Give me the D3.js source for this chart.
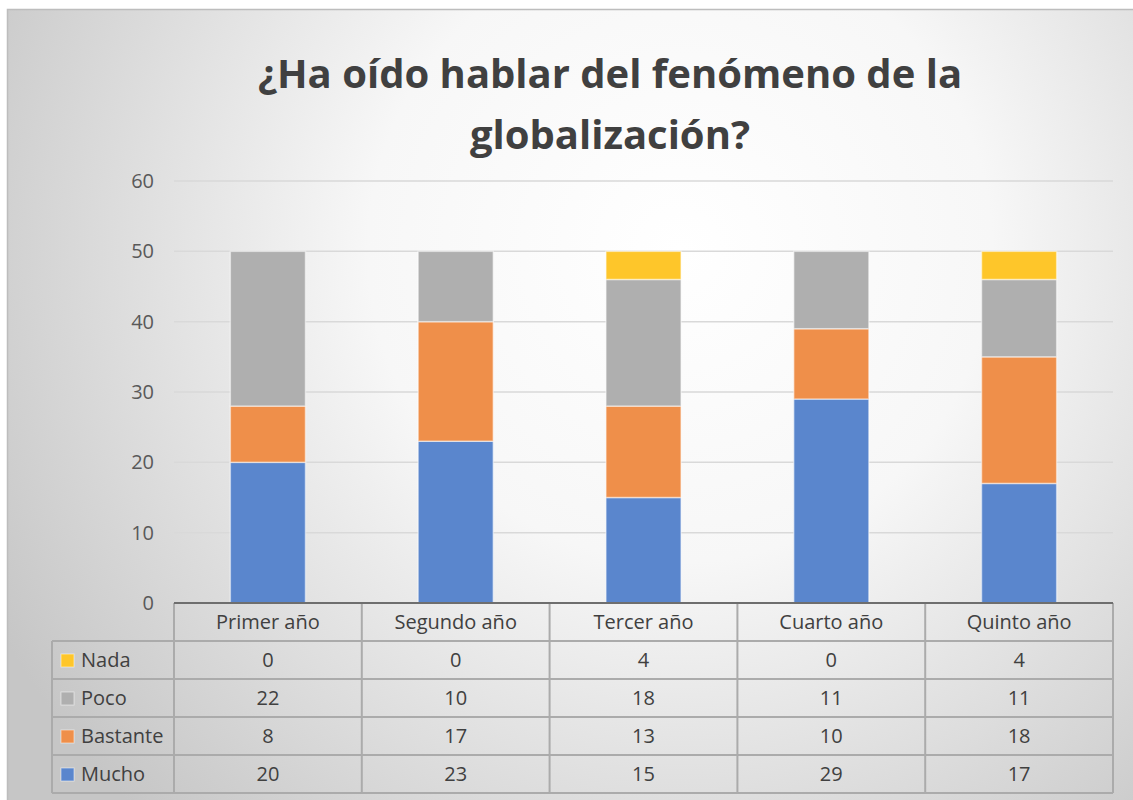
<!DOCTYPE html>
<html>
<head>
<meta charset="utf-8">
<script src="https://cdn.jsdelivr.net/npm/d3@7"></script>
<style>
  body { margin: 0; background: #fff; }
  text { font-family: "Open Sans", "Noto Sans", sans-serif; }
</style>
</head>
<body>
<script>
var categories = ["Primer año", "Segundo año", "Tercer año", "Cuarto año", "Quinto año"];
var seriesNames = ["Mucho", "Bastante", "Poco", "Nada"];
var mucho = [20, 23, 15, 29, 17];
var bastante = [8, 17, 13, 10, 18];
var poco = [22, 10, 18, 11, 11];
var nada = [0, 0, 4, 0, 4];
var yTicks = [0, 10, 20, 30, 40, 50, 60];
var colors = ["#5a86cd", "#ef8f4a", "#afafaf", "#fec62a"];

(function() {
var values = [mucho, bastante, poco, nada];
var rows = categories.map(function(c, i) {
  var r = { cat: c };
  seriesNames.forEach(function(s, j) { r[s] = values[j][i]; });
  return r;
});

var W = 1133, H = 800;
var svg = d3.select("body").append("svg")
    .attr("width", W)
    .attr("height", H);

var defs = svg.append("defs");
var grad = defs.append("radialGradient")
    .attr("id", "bg")
    .attr("gradientUnits", "userSpaceOnUse")
    .attr("cx", 680).attr("cy", 250).attr("r", 780);
grad.append("stop").attr("offset", "0%").attr("stop-color", "#ffffff");
grad.append("stop").attr("offset", "40%").attr("stop-color", "#f7f7f7");
grad.append("stop").attr("offset", "100%").attr("stop-color", "#c6c6c6");

svg.append("rect")
    .attr("x", 7.5).attr("y", 9.5)
    .attr("width", W - 6).attr("height", H)
    .attr("fill", "url(#bg)")
    .attr("stroke", "#bdbdbd")
    .attr("stroke-width", 1.5);

// title
var title = svg.append("text")
    .attr("text-anchor", "middle")
    .attr("fill", "#404040")
    .attr("font-size", 40)
    .attr("font-weight", "bold");
title.append("tspan").attr("x", 610).attr("y", 88).text("¿Ha oído hablar del fenómeno de la");
title.append("tspan").attr("x", 610).attr("y", 149).text("globalización?");

var pLeft = 174, pRight = 1113, pTop = 181, pBottom = 603;

var x = d3.scaleBand().domain(categories).range([pLeft, pRight]).paddingInner(0.6).paddingOuter(0.3);
var xCell = d3.scaleBand().domain(categories).range([pLeft, pRight]);
var y = d3.scaleLinear().domain([0, 60]).range([pBottom, pTop]);

// gridlines
svg.append("g")
  .selectAll("line")
  .data(yTicks.slice(1))
  .join("line")
    .attr("x1", pLeft).attr("x2", pRight)
    .attr("y1", function(d) { return y(d); })
    .attr("y2", function(d) { return y(d); })
    .attr("stroke", "#d9d9d9")
    .attr("stroke-width", 1.5);

// y axis labels
var yAxis = svg.append("g")
    .attr("transform", "translate(" + (pLeft - 20) + ",0)")
    .call(d3.axisLeft(y).tickValues(yTicks).tickSize(0).tickPadding(0));
yAxis.select(".domain").remove();
yAxis.selectAll("text")
    .attr("font-size", 20)
    .attr("fill", "#595959")
    .attr("font-family", "'Open Sans', sans-serif");

// stacked bars
var stack = d3.stack().keys(seriesNames)(rows);
svg.append("g")
  .selectAll("g")
  .data(stack)
  .join("g")
    .attr("fill", function(d, i) { return colors[i]; })
  .selectAll("rect")
  .data(function(d) { return d; })
  .join("rect")
    .attr("x", function(d) { return x(d.data.cat); })
    .attr("width", x.bandwidth())
    .attr("y", function(d) { return y(d[1]); })
    .attr("height", function(d) { return y(d[0]) - y(d[1]); })
    .attr("stroke", "#ffffff")
    .attr("stroke-opacity", 0.5)
    .attr("stroke-width", 1.5);

// data table
var rowH = 38;
var tableLeft = 52;
var tableRows = seriesNames.slice().reverse();
var table = svg.append("g").attr("fill", "none");
var lineColor = "#ababab";

// header row
svg.append("g")
  .selectAll("text")
  .data(categories)
  .join("text")
    .attr("x", function(d) { return xCell(d) + xCell.bandwidth() / 2; })
    .attr("y", pBottom + rowH / 2 + 7)
    .attr("text-anchor", "middle")
    .attr("font-size", 20)
    .attr("fill", "#404040")
    .text(function(d) { return d; });

// horizontal lines
table.selectAll("line.h")
  .data(d3.range(1, tableRows.length + 2))
  .join("line")
    .attr("x1", tableLeft)
    .attr("x2", pRight)
    .attr("y1", function(d) { return pBottom + d * rowH; })
    .attr("y2", function(d) { return pBottom + d * rowH; })
    .attr("stroke", lineColor).attr("stroke-width", 2);

// vertical lines
var vx = [pLeft].concat(categories.map(function(c) { return xCell(c) + xCell.bandwidth(); }));
table.selectAll("line.v")
  .data(vx)
  .join("line")
    .attr("x1", function(d) { return d; })
    .attr("x2", function(d) { return d; })
    .attr("y1", pBottom)
    .attr("y2", pBottom + 5 * rowH)
    .attr("stroke", lineColor).attr("stroke-width", 2);
table.append("line")
    .attr("x1", tableLeft).attr("x2", tableLeft)
    .attr("y1", pBottom + rowH).attr("y2", pBottom + 5 * rowH)
    .attr("stroke", lineColor).attr("stroke-width", 2);

// axis line on top
svg.append("line")
    .attr("x1", pLeft).attr("x2", pRight)
    .attr("y1", pBottom).attr("y2", pBottom)
    .attr("stroke", "#6e6e6e").attr("stroke-width", 2);

// legend keys + values
var rowG = svg.append("g")
  .selectAll("g")
  .data(tableRows)
  .join("g")
    .attr("transform", function(d, i) { return "translate(0," + (pBottom + (i + 1) * rowH) + ")"; });

rowG.append("rect")
    .attr("x", tableLeft + 9).attr("y", rowH / 2 - 6)
    .attr("width", 13).attr("height", 13)
    .attr("fill", function(d) { return colors[seriesNames.indexOf(d)]; })
    .attr("stroke", "#ffffff").attr("stroke-opacity", 0.5);

rowG.append("text")
    .attr("x", tableLeft + 29).attr("y", rowH / 2 + 7)
    .attr("font-size", 20)
    .attr("fill", "#404040")
    .text(function(d) { return d; });

rowG.selectAll("text.v")
  .data(function(s) {
    var vals = values[seriesNames.indexOf(s)];
    return categories.map(function(c, i) { return { cat: c, v: vals[i] }; });
  })
  .join("text")
    .attr("x", function(d) { return xCell(d.cat) + xCell.bandwidth() / 2; })
    .attr("y", rowH / 2 + 7)
    .attr("text-anchor", "middle")
    .attr("font-size", 20)
    .attr("fill", "#404040")
    .text(function(d) { return d.v; });
})();
</script>
</body>
</html>
